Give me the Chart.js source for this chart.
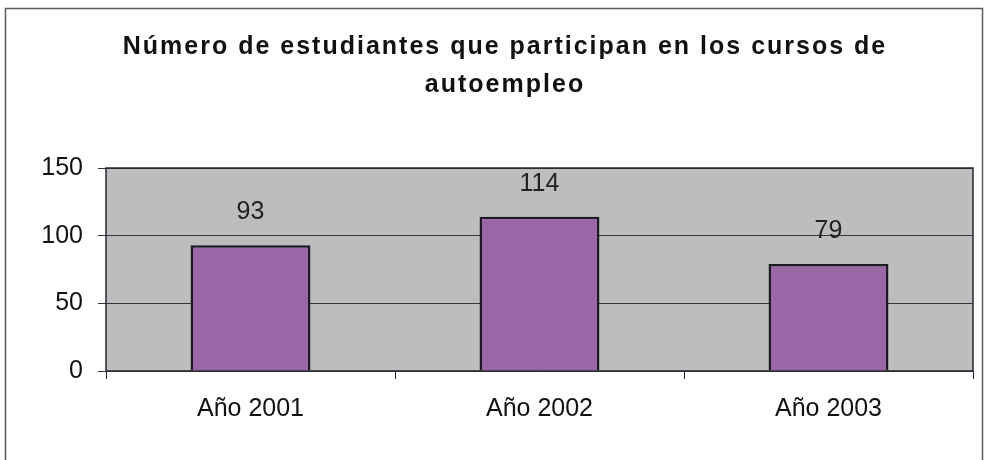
<!DOCTYPE html>
<html>
<head>
<meta charset="utf-8">
<script src="https://cdn.jsdelivr.net/npm/chart.js@4/dist/chart.umd.min.js"></script>
<style>
  html, body { margin: 0; padding: 0; background: #fff; }
  #wrap { width: 987px; height: 460px; }
</style>
</head>
<body>
<div id="wrap"><canvas id="chart" width="987" height="460"></canvas></div>
<script>
const categories = ['Año 2001', 'Año 2002', 'Año 2003'];
const students = [93, 114, 79];
const yTicks = [0, 50, 100, 150];
const titleLines = ['Número de estudiantes que participan en los cursos de', 'autoempleo'];

const FONT = '"Liberation Sans", Arial, sans-serif';

// gray plot area, outer frame, spaced-out title and the value labels above the bars
const decorations = {
  id: 'decorations',
  beforeDraw(chart) {
    const { ctx, chartArea: a } = chart;
    ctx.save();
    ctx.strokeStyle = '#5a5a5a';
    ctx.lineWidth = 1.5;
    ctx.strokeRect(5.5, 8.5, 977, 470);
    ctx.fillStyle = '#bdbdbd';
    ctx.fillRect(a.left, a.top, a.right - a.left, a.bottom - a.top);

    // title: Chart.js title has no letter spacing, so it is drawn here
    ctx.fillStyle = '#111';
    ctx.font = 'bold 25px ' + FONT;
    ctx.letterSpacing = '2px';
    ctx.textAlign = 'center';
    ctx.textBaseline = 'middle';
    titleLines.forEach((line, i) => ctx.fillText(line, 505, 47 + i * 38));
    ctx.restore();
  },
  afterDatasetsDraw(chart) {
    const { ctx, chartArea: a } = chart;
    ctx.save();
    ctx.strokeStyle = '#2a2530';
    ctx.lineWidth = 1.5;
    ctx.strokeRect(a.left, a.top, a.right - a.left, a.bottom - a.top);
    ctx.fillStyle = '#222';
    ctx.font = '25px ' + FONT;
    ctx.textAlign = 'center';
    ctx.textBaseline = 'middle';
    chart.getDatasetMeta(0).data.forEach((bar, i) => {
      ctx.fillText(students[i], bar.x, bar.y - 33);
    });
    ctx.restore();
  }
};

new Chart(document.getElementById('chart'), {
  type: 'bar',
  data: {
    labels: categories,
    datasets: [{
      data: students,
      backgroundColor: '#9966a6',
      borderColor: '#1e1a24',
      borderWidth: 2.5,
      categoryPercentage: 1,
      barPercentage: 0.415
    }]
  },
  options: {
    responsive: false,
    animation: false,
    layout: { padding: { left: 0, right: 14, top: 168, bottom: 21 } },
    plugins: {
      legend: { display: false },
      tooltip: { enabled: false },
      title: { display: false }
    },
    scales: {
      x: {
        offset: true,
        grid: {
          offset: true,
          drawOnChartArea: false,
          drawTicks: true,
          tickLength: 8,
          color: '#2a2530'
        },
        border: { display: false },
        ticks: {
          color: '#111',
          padding: 15,
          font: { family: FONT, size: 25 }
        }
      },
      y: {
        min: 0,
        max: 150,
        afterFit(scale) { scale.width = 106; },
        afterBuildTicks(scale) { scale.ticks = yTicks.map(v => ({ value: v })); },
        grid: {
          color: '#3c3340',
          lineWidth: 1,
          tickLength: 8
        },
        border: { display: false },
        ticks: {
          color: '#111',
          padding: 15,
          font: { family: FONT, size: 25 }
        }
      }
    }
  },
  plugins: [decorations]
});
</script>
</body>
</html>
